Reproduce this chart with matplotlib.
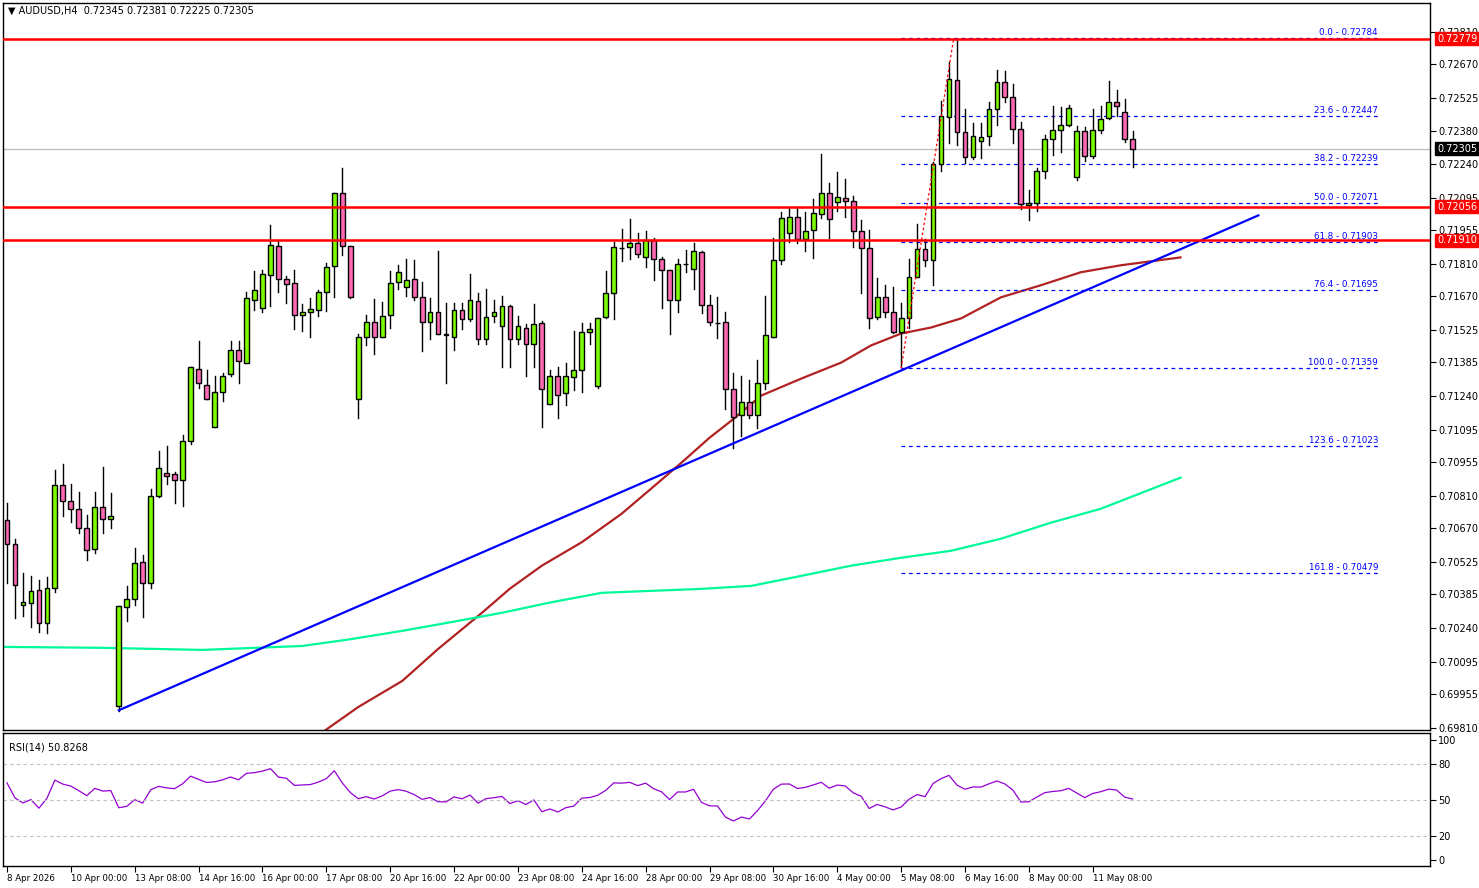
import matplotlib
matplotlib.use("Agg")
import matplotlib.pyplot as plt
import numpy as np
from matplotlib.patches import Rectangle

opens = [0.70707,0.70604,0.70340,0.70349,0.70405,0.70263,0.70414,0.70858,0.70789,0.70754,
0.70672,0.70582,0.70763,0.70711,0.69905,0.70332,0.70366,0.70526,0.70435,0.70811,
0.70910,0.70905,0.70880,0.71044,0.71358,0.71289,0.71108,0.71255,0.71333,0.71440,
0.71384,0.71652,0.71617,0.71760,0.71885,0.71742,0.71725,0.71591,0.71600,0.71609,
0.71686,0.71798,0.72113,0.71885,0.71225,0.71496,0.71557,0.71496,0.71587,0.71729,
0.71708,0.71742,0.71665,0.71557,0.71600,0.71505,0.71496,0.71609,0.71570,0.71648,
0.71484,0.71583,0.71540,0.71626,0.71484,0.71535,0.71462,0.71553,0.71207,0.71324,
0.71251,0.71320,0.71354,0.71514,0.71281,0.71579,0.71682,0.71876,0.71880,0.71898,
0.71837,0.71911,0.71829,0.71781,0.71652,0.71807,0.71786,0.71859,0.71630,0.71553,
0.71557,0.71268,0.71156,0.71212,0.71156,0.71298,0.71496,0.71824,0.71941,0.72010,
0.71915,0.71954,0.72023,0.72113,0.72075,0.72092,0.72079,0.71950,0.71876,0.71579,
0.71665,0.71600,0.71514,0.71574,0.71751,0.71872,0.71824,0.72238,0.72441,0.72601,
0.72377,0.72269,0.72338,0.72359,0.72476,0.72592,0.72528,0.72390,0.72062,0.72070,
0.72208,0.72346,0.72385,0.72407,0.72182,0.72381,0.72273,0.72385,0.72437,0.72506,
0.72463,0.72345]
highs = [0.70780,0.70625,0.70478,0.70465,0.70448,0.70461,0.70923,0.70949,0.70862,0.70828,
0.70729,0.70828,0.70936,0.70823,0.70336,0.70422,0.70586,0.70556,0.70841,0.71005,
0.71026,0.70914,0.71074,0.71367,0.71479,0.71354,0.71328,0.71341,0.71479,0.71479,
0.71686,0.71777,0.71781,0.71975,0.71906,0.71755,0.71781,0.71635,0.71660,0.71695,
0.71811,0.72113,0.72221,0.71885,0.71505,0.71587,0.71656,0.71643,0.71777,0.71803,
0.71829,0.71824,0.71729,0.71660,0.71863,0.71639,0.71639,0.71639,0.71764,0.71682,
0.71699,0.71652,0.71669,0.71630,0.71583,0.71548,0.71635,0.71565,0.71354,0.71363,
0.71380,0.71518,0.71553,0.71553,0.71574,0.71777,0.71902,0.71958,0.72001,0.71941,
0.71950,0.71919,0.71837,0.71781,0.71829,0.71868,0.71898,0.71863,0.71673,0.71665,
0.71600,0.71337,0.71328,0.71307,0.71397,0.71669,0.71919,0.72031,0.72049,0.72053,
0.72031,0.72087,0.72282,0.72157,0.72204,0.72174,0.72101,0.71997,0.71954,0.71747,
0.71717,0.71708,0.71639,0.71829,0.71980,0.71915,0.72247,0.72510,0.72679,0.72778,
0.72476,0.72415,0.72415,0.72506,0.72644,0.72640,0.72584,0.72420,0.72126,0.72221,
0.72364,0.72489,0.72484,0.72493,0.72402,0.72398,0.72476,0.72489,0.72597,0.72558,
0.72519,0.72381]
lows = [0.70435,0.70284,0.70293,0.70245,0.70224,0.70220,0.70396,0.70724,0.70698,0.70651,
0.70534,0.70565,0.70651,0.70672,0.69883,0.70271,0.70340,0.70289,0.70414,0.70806,
0.70862,0.70780,0.70767,0.71035,0.71276,0.71225,0.71108,0.71220,0.71324,0.71294,
0.71384,0.71609,0.71600,0.71626,0.71686,0.71639,0.71527,0.71518,0.71492,0.71583,
0.71604,0.71665,0.71846,0.71660,0.71147,0.71458,0.71423,0.71496,0.71535,0.71699,
0.71669,0.71652,0.71432,0.71484,0.71505,0.71298,0.71436,0.71527,0.71565,0.71462,
0.71466,0.71557,0.71363,0.71363,0.71466,0.71324,0.71367,0.71108,0.71207,0.71147,
0.71199,0.71264,0.71255,0.71462,0.71276,0.71574,0.71570,0.71820,0.71829,0.71837,
0.71794,0.71738,0.71617,0.71509,0.71600,0.71773,0.71699,0.71596,0.71544,0.71488,
0.71186,0.71018,0.71069,0.71143,0.71100,0.71272,0.71496,0.71807,0.71902,0.71898,
0.71863,0.71833,0.72005,0.71919,0.72036,0.72010,0.71880,0.71682,0.71531,0.71570,
0.71579,0.71510,0.71363,0.71535,0.71751,0.71798,0.71717,0.72208,0.72329,0.72320,
0.72243,0.72260,0.72264,0.72320,0.72407,0.72506,0.72329,0.72044,0.71997,0.72036,
0.72178,0.72277,0.72290,0.72402,0.72169,0.72251,0.72264,0.72372,0.72433,0.72446,
0.72333,0.72225]
closes = [0.70604,0.70427,0.70353,0.70401,0.70263,0.70414,0.70858,0.70789,0.70754,0.70672,
0.70578,0.70763,0.70711,0.70724,0.70336,0.70366,0.70521,0.70435,0.70811,0.70931,
0.70897,0.70880,0.71044,0.71363,0.71294,0.71229,0.71255,0.71328,0.71440,0.71389,
0.71660,0.71695,0.71764,0.71889,0.71742,0.71721,0.71587,0.71600,0.71613,0.71686,
0.71794,0.72113,0.71885,0.71665,0.71496,0.71557,0.71496,0.71583,0.71725,0.71773,
0.71738,0.71665,0.71557,0.71600,0.71505,0.71501,0.71609,0.71570,0.71652,0.71484,
0.71579,0.71600,0.71626,0.71484,0.71540,0.71462,0.71548,0.71272,0.71324,0.71246,
0.71324,0.71354,0.71514,0.71527,0.71574,0.71682,0.71880,0.71876,0.71898,0.71850,
0.71911,0.71829,0.71781,0.71652,0.71807,0.71807,0.71863,0.71630,0.71557,0.71553,
0.71272,0.71151,0.71216,0.71156,0.71298,0.71501,0.71824,0.72005,0.72010,0.71915,
0.71950,0.72027,0.72113,0.72001,0.72096,0.72079,0.71950,0.71876,0.71574,0.71665,
0.71600,0.71514,0.71574,0.71751,0.71872,0.71824,0.72238,0.72446,0.72605,0.72377,
0.72269,0.72359,0.72355,0.72476,0.72592,0.72528,0.72390,0.72066,0.72070,0.72208,
0.72346,0.72385,0.72407,0.72480,0.72381,0.72273,0.72385,0.72433,0.72506,0.72489,
0.72346,0.72305]

ma_red_idx = [39.75,44,49.5,54,59.5,63,67,72,77,81,84.5,88,90.75,94.5,99.5,104.5,108.25,112,115.75,119.5,124.5,129.5,134.5,139.5,147]
ma_red_val = [0.69797,0.69900,0.70012,0.70150,0.70306,0.70410,0.70509,0.70610,0.70733,0.70850,0.70953,0.71060,0.71134,0.71242,0.71315,0.71384,0.71458,0.71509,0.71535,0.71574,0.71665,0.71717,0.71773,0.71803,0.71837]
ma_green_idx = [-0.5,12,24.5,37,43,49.5,56,62,68,74.5,87,93.25,99.5,105.75,112,118.25,124.5,130.75,137,147]
ma_green_val = [0.70159,0.70155,0.70146,0.70163,0.70192,0.70228,0.70268,0.70306,0.70350,0.70392,0.70409,0.70422,0.70465,0.70509,0.70543,0.70573,0.70625,0.70694,0.70754,0.70888]
trend_idx = [14, 156.75]
trend_val = [0.69886, 0.72018]
rsi_seed_gain = 0.00036
rsi_seed_loss = 0.00020

fib_pct = ["0.0","23.6","38.2","50.0","61.8","76.4","100.0","123.6","161.8"]
fib_val = [0.72784,0.72447,0.72239,0.72071,0.71903,0.71695,0.71359,0.71023,0.70479]
hlines = [0.72779,0.72056,0.71910]
last_price = 0.72305
yticks = [0.72810,0.72670,0.72525,0.72380,0.72240,0.72095,0.71955,0.71810,0.71670,0.71525,0.71385,
          0.71240,0.71095,0.70955,0.70810,0.70670,0.70525,0.70385,0.70240,0.70095,0.69955,0.69810]
xlabels = ["8 Apr 2026","10 Apr 00:00","13 Apr 08:00","14 Apr 16:00","16 Apr 00:00","17 Apr 08:00",
           "20 Apr 16:00","22 Apr 00:00","23 Apr 08:00","24 Apr 16:00","28 Apr 00:00","29 Apr 08:00",
           "30 Apr 16:00","4 May 00:00","5 May 08:00","6 May 16:00","8 May 00:00","11 May 08:00"]

W, H = 1479, 888
fig = plt.figure(figsize=(W/100, H/100), dpi=100)
ax = fig.add_axes([3/W, 1-730/H, 1427/W, 727/H])
ar = fig.add_axes([3/W, 1-866/H, 1427/W, 133/H], sharex=ax)

n = len(closes)
x = np.arange(n)
for i in range(n):
    o, h, l, c = opens[i], highs[i], lows[i], closes[i]
    ax.plot([i, i], [l, h], color="black", lw=1, zorder=3)
    col = "#7CFC00" if c >= o else "#FF69B4"
    lo, hi = min(o, c), max(o, c)
    if hi - lo < 0.00003:
        hi = lo + 0.00003
    ax.add_patch(Rectangle((i-0.3, lo), 0.6, hi-lo, facecolor=col, edgecolor="black", lw=1, zorder=4))

ax.plot(ma_red_idx, ma_red_val, color="#B22222", lw=1.6, zorder=2)
ax.plot(ma_green_idx, ma_green_val, color="#00FA9A", lw=1.6, zorder=2)
ax.plot(trend_idx, trend_val, color="#0000FF", lw=1.6, zorder=5)

for v in hlines:
    ax.axhline(v, color="red", lw=1.8, zorder=6)
ax.axhline(last_price, color="#C0C0C0", lw=1, zorder=1)

fx0, fx1 = 112, 171.75
for p, v in zip(fib_pct, fib_val):
    ax.plot([fx0, fx1], [v, v], color="#0000FF", lw=0.9, ls=(0, (3, 3)), zorder=2)
    ax.text(fx1, v + 0.00004, f"{p} - {v:.5f}", color="#0000FF", fontsize=6.3, ha="right", va="bottom")
ax.plot([112, 118.6], [fib_val[6], fib_val[0]], color="red", lw=0.9, ls=(0, (2, 2)), zorder=6)

ax.set_xlim(-0.5, 178.25)
ax.set_ylim(0.69801, 0.72933)
ax.yaxis.tick_right()
ax.set_yticks(yticks)
ax.set_yticklabels([f"{t:.5f}" for t in yticks], fontsize=7)
ax.tick_params(axis="y", length=4, pad=2)
ax.tick_params(axis="x", bottom=False, labelbottom=False)

def tag(v, fc, tc="white"):
    ax.annotate(f"{v:.5f}", xy=(1.0, v), xycoords=("axes fraction", "data"), xytext=(5, 0),
                textcoords="offset points", fontsize=7, color=tc, va="center", ha="left",
                bbox=dict(boxstyle="square,pad=0.15", fc=fc, ec=fc), annotation_clip=False, zorder=10)
for v in hlines:
    tag(v, "red")
tag(last_price, "black")

fig.text(8/W, 1-11/H, "▼ AUDUSD,H4  0.72345 0.72381 0.72225 0.72305", fontsize=7, va="center")

# RSI (Wilder, period 14)
cl = np.array(closes)
d = np.diff(cl)
per = 14
ag, al = rsi_seed_gain, rsi_seed_loss
rsi = [100 - 100 / (1 + ag / al)]
for k in range(len(d)):
    ag = (ag * (per-1) + max(d[k], 0)) / per
    al = (al * (per-1) + max(-d[k], 0)) / per
    rsi.append(100 - 100 / (1 + ag / al))
ar.plot(x, rsi, color="#9400D3", lw=0.9)
for lv in (80, 50, 20):
    ar.axhline(lv, color="#C0C0C0", lw=0.8, ls=(0, (3, 3)))
ar.set_ylim(-5, 105.8)
ar.yaxis.tick_right()
ar.set_yticks([100, 80, 50, 20, 0])
ar.set_yticklabels(["100", "80", "50", "20", "0"], fontsize=7)
ar.tick_params(axis="y", length=4, pad=2)
ar.text(0.004, 0.93, "RSI(14) 50.8268", transform=ar.transAxes, fontsize=7, va="top")
ar.set_xticks(np.arange(0, 8*len(xlabels), 8))
ar.set_xticklabels(xlabels, fontsize=6.2, ha="left")
ar.tick_params(axis="x", length=4, pad=2)

for a in (ax, ar):
    for s in a.spines.values():
        s.set_linewidth(1)
fig.savefig("out.png", dpi=100, facecolor="white")
